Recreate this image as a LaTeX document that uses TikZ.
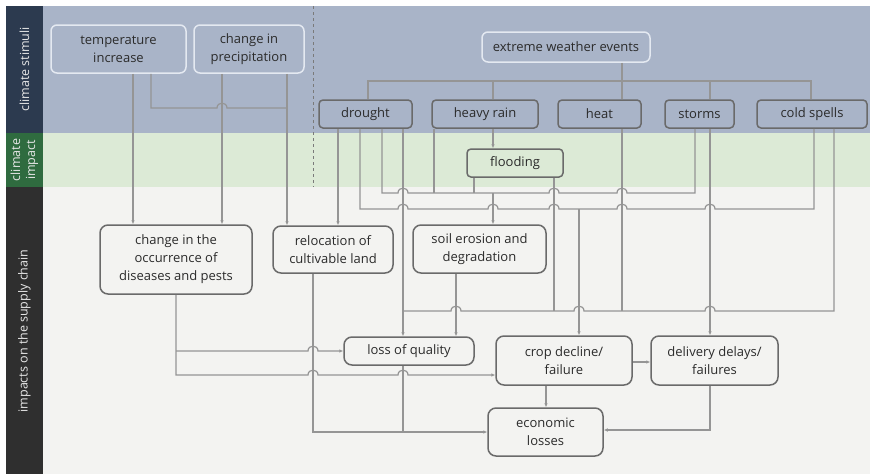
\documentclass[tikz,border=0pt]{standalone}
\usepackage{fontspec}
\setmainfont{Open Sans}
\usetikzlibrary{arrows.meta}

\definecolor{bandtop}{HTML}{A9B4C8}
\definecolor{bandmid}{HTML}{DCEAD6}
\definecolor{bandlow}{HTML}{F3F3F1}
\definecolor{striptop}{HTML}{2C3A4F}
\definecolor{stripmid}{HTML}{2F6B3F}
\definecolor{striplow}{HTML}{2F2F2F}
\definecolor{boxlight}{HTML}{E4E9F1}
\definecolor{boxdark}{HTML}{6A6A6A}
\definecolor{linec}{HTML}{959595}
\definecolor{txt}{HTML}{2B2B2B}
\definecolor{dashc}{HTML}{7A7A7A}
\definecolor{striptext}{HTML}{E8E8E8}

\tikzset{
  base/.style={align=center, text=txt, font=\fontsize{13}{18}\selectfont,
    inner sep=0pt, line width=1.5pt},
  topbox/.style={base, draw=boxlight, fill=bandtop, rounded corners=6pt},
  evbox/.style={base, draw=boxdark, fill=bandtop, rounded corners=4pt},
  floodbox/.style={base, draw=boxdark, fill=bandmid, rounded corners=4pt},
  lowbox/.style={base, draw=boxdark, fill=bandlow, rounded corners=8pt},
  striplabel/.style={text=striptext, align=center, rotate=90,
    font=\fontsize{12.5}{15}\selectfont, inner sep=0pt},
  link/.style={draw=linec, line width=1.2pt},
  arr/.style={link, -{Latex[length=4pt,width=3.6pt]}},
  % small hop of a horizontal line over a vertical one
  jump/.style args={#1/#2}{insert path={-- (#1-5,#2) .. controls (#1-5,#2-6.5) and (#1+5,#2-6.5) .. (#1+5,#2)}},
}

\begin{document}
\begin{tikzpicture}[x=1pt,y=-1pt]
\useasboundingbox (0,0) rectangle (870,474);
\fill[white] (0,0) rectangle (870,474);

% bands
\fill[bandtop] (43,6) rectangle (870,133);
\fill[bandmid] (43,133) rectangle (870,187);
\fill[bandlow] (43,187) rectangle (870,474);
\fill[striptop] (6,6) rectangle (43,133);
\fill[stripmid] (6,133) rectangle (43,187);
\fill[striplow] (6,187) rectangle (43,474);

\node[striplabel] (labstim) at (24.5,69.5) {climate stimuli};
\node[striplabel] (labimp) at (24.5,160) {climate\\impact};
\node[striplabel] (labsup) at (24.5,331) {impacts on the supply chain};

\draw[dashc, line width=1pt, dash pattern=on 3pt off 3pt] (313,6) -- (313,187);

% climate stimuli
\node[topbox, minimum width=135pt, minimum height=48pt] (temp) at (118.5,49) {temperature\\increase};
\node[topbox, minimum width=110pt, minimum height=48pt] (prec) at (249,49) {change in\\precipitation};
\node[topbox, minimum width=168pt, minimum height=30pt] (ewe) at (566,47) {extreme weather events};

\node[evbox, minimum width=93pt, minimum height=28pt] (drought) at (365.5,114) {drought};
\node[evbox, minimum width=106pt, minimum height=28pt] (rain) at (485,114) {heavy rain};
\node[evbox, minimum width=83pt, minimum height=28pt] (heat) at (599.5,114) {heat};
\node[evbox, minimum width=69pt, minimum height=28pt] (storms) at (699.5,114) {storms};
\node[evbox, minimum width=110pt, minimum height=28pt] (cold) at (812,114) {cold spells};

% climate impact
\node[floodbox, minimum width=96pt, minimum height=28pt] (flood) at (515,163) {flooding};

% impacts on the supply chain
\node[lowbox, minimum width=152pt, minimum height=69pt] (dis) at (176,259.5) {change in the\\occurrence of\\diseases and pests};
\node[lowbox, minimum width=120pt, minimum height=47pt] (reloc) at (333,249.5) {relocation of\\cultivable land};
\node[lowbox, minimum width=133pt, minimum height=48pt] (soil) at (479.5,249) {soil erosion and\\degradation};
\node[lowbox, minimum width=130pt, minimum height=28pt] (loss) at (409,351) {loss of quality};
\node[lowbox, minimum width=136pt, minimum height=49pt] (crop) at (564,360.5) {crop decline/\\failure};
\node[lowbox, minimum width=127pt, minimum height=49pt] (deliv) at (714.5,360.5) {delivery delays/\\failures};
\node[lowbox, minimum width=115pt, minimum height=48pt] (econ) at (545.5,432) {economic\\losses};

% extreme weather events tree
\draw[link] (622,0 |- ewe.south) -- (622,0 |- heat.north);
\draw[link] (368,0 |- drought.north) -- (368,81) -- (811,81) -- (811,0 |- cold.north);
\draw[link] (493,81) -- (493,0 |- rain.north);
\draw[link] (710,81) -- (710,0 |- storms.north);
\draw[arr] (493,0 |- rain.south) -- (493,0 |- flood.north);

% temperature and precipitation
\draw[arr] (133,0 |- temp.south) -- (133,0 |- dis.north);
\draw[arr] (222,0 |- prec.south) -- (222,0 |- dis.north);
\draw[arr] (287,0 |- prec.south) -- (287,0 |- reloc.north);
\draw[link] (151,0 |- temp.south) -- (151,108) [jump=222/108] -- (287,108);

% drought
\draw[arr] (338,0 |- drought.south) -- (338,0 |- reloc.north);
\draw[arr] (403,0 |- drought.south) -- (403,0 |- loss.north);

% collector towards soil erosion
\draw[link] (382,0 |- drought.south) -- (382,193) [jump=403/193] [jump=554/193] [jump=622/193] -- (695,193) -- (695,0 |- storms.south);
\draw[link] (434,0 |- rain.south) -- (434,193);
\draw[link] (474,0 |- flood.south) -- (474,193);
\draw[arr] (493,193) -- (493,0 |- soil.north);

% collector towards crop decline
\draw[link] (360,0 |- drought.south) -- (360,209) [jump=403/209] [jump=493/209] [jump=554/209] [jump=622/209] [jump=710/209] -- (814,209) -- (814,0 |- cold.south);
\draw[arr] (579,209) -- (579,0 |- crop.north);

% collector towards loss of quality
\draw[link] (403,311) [jump=456/311] [jump=579/311] [jump=710/311] -- (834,311) -- (834,0 |- cold.south);
\draw[link] (554,0 |- flood.south) -- (554,311);
\draw[link] (622,0 |- heat.south) -- (622,311);

% storms to delivery
\draw[arr] (710,0 |- storms.south) -- (710,0 |- deliv.north);

% supply chain links
\draw[arr] (456,0 |- soil.south) -- (456,0 |- loss.north);
\draw[arr] (176,0 |- dis.south) -- (176,375) [jump=313/375] [jump=403/375] -- (crop.west |- 0,375);
\draw[arr] (176,351) [jump=313/351] -- (loss.west);
\draw[arr] (313,0 |- reloc.south) -- (313,432) -- (econ.west);
\draw[link] (403,0 |- loss.south) -- (403,432);
\draw[arr] (crop.east |- 0,362) -- (deliv.west |- 0,362);
\draw[arr] (546,0 |- crop.south) -- (546,0 |- econ.north);
\draw[arr] (710,0 |- deliv.south) -- (710,430) -- (econ.east |- 0,430);
\end{tikzpicture}
\end{document}
